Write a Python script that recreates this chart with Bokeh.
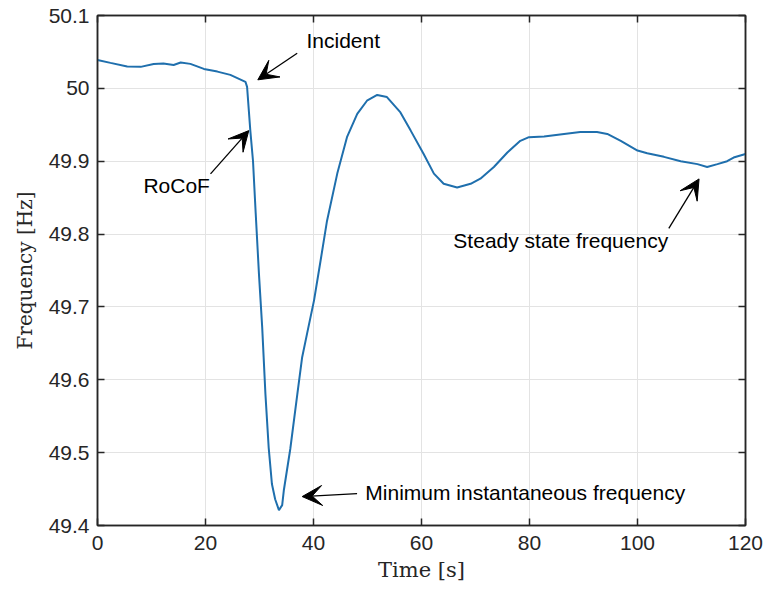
from bokeh.plotting import figure
from bokeh.models import (Range1d, FixedTicker, NumeralTickFormatter, LinearAxis,
                          Arrow, VeeHead, Label, CustomJSTickFormatter)
from bokeh.embed import file_html
from bokeh.resources import INLINE

# ---- data ----
time_s = [0, 2.4, 5.5, 8, 10.4, 12.2, 14.1, 15.4, 17.2, 19.7, 22.2, 24.6, 27.4, 27.7,
          28.3, 28.8, 29.3, 29.9, 30.5, 31.1, 31.7, 32.3, 32.9, 33.6, 34.2, 34.5, 35.7,
          37.0, 37.9, 38.8, 40.1, 41.3, 42.5, 44.4, 46.2, 48.1, 49.9, 51.8, 53.6, 56.1,
          58, 60.4, 62.3, 64.1, 66.6, 69.1, 70.9, 73.4, 75.9, 78.3, 79.9, 82.7, 86.4,
          89.4, 92.5, 94.4, 96.9, 100, 101.8, 104.9, 108, 111.1, 112.9, 114.8, 116.6,
          117.8, 120]
freq_hz = [50.039, 50.035, 50.030, 50.0295, 50.0335, 50.034, 50.032, 50.0354, 50.0336,
           50.0267, 50.023, 50.0185, 50.009, 50.002, 49.942, 49.900, 49.828, 49.745,
           49.672, 49.580, 49.507, 49.457, 49.436, 49.421, 49.428, 49.448, 49.505,
           49.580, 49.631, 49.663, 49.709, 49.763, 49.818, 49.883, 49.933, 49.965,
           49.983, 49.991, 49.988, 49.967, 49.942, 49.910, 49.883, 49.869, 49.864,
           49.869, 49.876, 49.892, 49.912, 49.928, 49.933, 49.934, 49.9375, 49.940,
           49.940, 49.9375, 49.928, 49.9146, 49.911, 49.906, 49.900, 49.896, 49.892,
           49.896, 49.900, 49.905, 49.910]

x_ticks = [0, 20, 40, 60, 80, 100, 120]
y_ticks = [49.4, 49.5, 49.6, 49.7, 49.8, 49.9, 50.0, 50.1]

# annotations: (text, text x, text y, arrow tail x, tail y, head x, head y)
notes = [
    ("Incident", 38.7, 50.0657, 36.98, 50.0482, 29.69, 50.0117),
    ("RoCoF", 8.5, 49.866, 20.93, 49.8826, 28.02, 49.942),
    ("Minimum instantaneous frequency", 49.6, 49.4448, 48.07, 49.4438, 37.9, 49.4397),
    ("Steady state frequency", 65.9, 49.791, 105.8, 49.8078, 111.4, 49.8757),
]

AX = "#262626"

p = figure(width=763, height=589, output_backend="svg", toolbar_location=None,
           x_range=Range1d(0, 120), y_range=Range1d(49.4, 50.1),
           min_border_left=97, min_border_right=18, min_border_top=15,
           min_border_bottom=64, background_fill_color="white",
           border_fill_color="white")
p.outline_line_color = AX
p.outline_line_width = 1.5

p.line(time_s, freq_hz, line_color="#1f6fad", line_width=2)

for ax in (p.xaxis[0], p.yaxis[0]):
    ax.axis_line_color = AX
    ax.axis_line_width = 1.5
    ax.major_tick_in = 7
    ax.major_tick_out = 0
    ax.major_tick_line_color = AX
    ax.major_tick_line_width = 1.5
    ax.minor_tick_line_color = None
    ax.major_label_text_font = "Liberation Sans"
    ax.major_label_text_font_size = "21px"
    ax.major_label_text_color = AX
    ax.axis_label_text_font = "DejaVu Serif"
    ax.axis_label_text_font_style = "normal"
    ax.axis_label_text_color = AX

p.xaxis[0].ticker = FixedTicker(ticks=x_ticks)
p.yaxis[0].ticker = FixedTicker(ticks=y_ticks)
p.yaxis[0].formatter = NumeralTickFormatter(format="0.[0]")
p.xaxis[0].axis_label = "Time [s]"
p.yaxis[0].axis_label = "Frequency [Hz]"
p.xaxis[0].axis_label_text_font_size = "21px"
p.yaxis[0].axis_label_text_font_size = "20px"
p.xaxis[0].major_label_standoff = 10
p.yaxis[0].major_label_standoff = 8
p.xaxis[0].axis_label_standoff = 5
p.yaxis[0].axis_label_standoff = 9

blank = CustomJSTickFormatter(code="return ''")
for loc, tk in (("right", y_ticks), ("above", x_ticks)):
    a = LinearAxis(ticker=FixedTicker(ticks=tk), formatter=blank,
                   major_tick_in=7, major_tick_out=0,
                   major_tick_line_color=AX, major_tick_line_width=1.5,
                   minor_tick_line_color=None, axis_line_color=AX, axis_line_width=1.5,
                   major_label_standoff=0)
    p.add_layout(a, loc)

p.xgrid.grid_line_color = "#e3e3e3"
p.ygrid.grid_line_color = "#e3e3e3"
p.xgrid.grid_line_width = 1
p.ygrid.grid_line_width = 1

for txt, tx, ty, x0, y0, x1, y1 in notes:
    p.add_layout(Arrow(end=VeeHead(size=20, fill_color="black", line_color="black",
                                   line_width=1),
                       x_start=x0, y_start=y0, x_end=x1, y_end=y1,
                       line_color="black", line_width=1.3))
    p.add_layout(Label(x=tx, y=ty, text=txt, text_font="Liberation Sans",
                       text_font_size="21px", text_baseline="alphabetic",
                       text_align="left", text_color="black"))

open("out.html", "w").write(file_html(p, INLINE))
